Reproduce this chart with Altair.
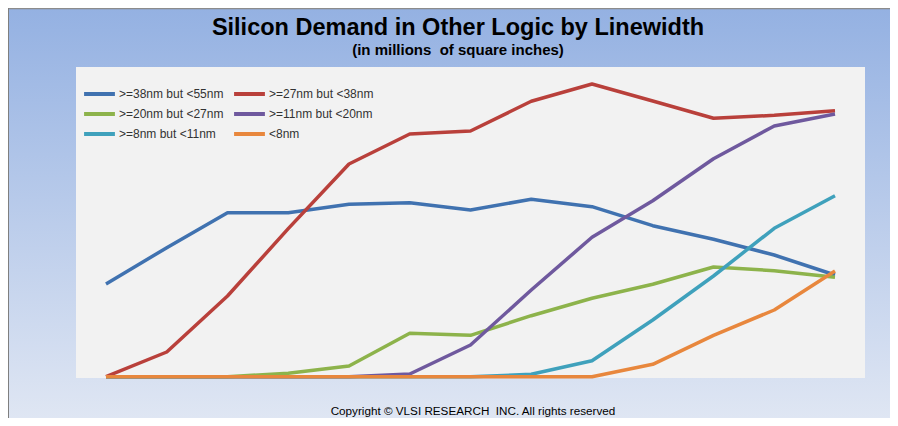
import altair as alt
import pandas as pd

# ---- data (relative units, 0 = baseline) ----
periods = list(range(13))
series_names = [">=38nm but <55nm", ">=27nm but <38nm", ">=20nm but <27nm",
                ">=11nm but <20nm", ">=8nm but <11nm", "<8nm"]
s_38_55 = [92.7, 129, 164, 164, 172.4, 174, 166.7, 177.4, 170, 151, 137.4, 121.7, 101.7]
s_27_38 = [0, 24.7, 80.7, 148, 212.7, 242.7, 245.7, 275.4, 292.7, 275.7, 258.4, 261.4, 266]
s_20_27 = [0, 0, 0, 3.4, 10.7, 43.4, 41.4, 61, 78.4, 92.4, 109.7, 106, 99.4]
s_11_20 = [0, 0, 0, 0, 0, 2.7, 31.7, 86.7, 139.4, 176, 218, 250.7, 262.7]
s_8_11 = [0, 0, 0, 0, 0, 0, 0, 2.4, 16, 56.7, 100.7, 148.4, 181]
s_lt8 = [0, 0, 0, 0, 0, 0, 0, 0, 0, 12.4, 41.4, 66.7, 105.7]
series_colors = ["#4072B0", "#B9403B", "#8DB34B", "#6F599E", "#3FA1BC", "#E8873D"]

title_text = "Silicon Demand in Other Logic by Linewidth"
subtitle_text = "(in millions\u00a0 of square inches)"
copyright_text = "Copyright \u00a9 VLSI RESEARCH\u00a0 INC. All rights reserved"

all_series = [s_38_55, s_27_38, s_20_27, s_11_20, s_8_11, s_lt8]
rows = []
for order, (name, vals) in enumerate(zip(series_names, all_series)):
    for p, v in zip(periods, vals):
        rows.append({"period": p, "value": v, "series": name, "ord": order})
df = pd.DataFrame(rows)

W, H = 882, 410
FONT = "Liberation Sans"
one = alt.Data(values=[{"a": 1}])

background = alt.Chart(one).mark_rect(
    color=alt.Gradient(
        gradient="linear", x1=0, y1=0, x2=0, y2=1,
        stops=[alt.GradientStop(offset=0, color="#94B1E2"),
               alt.GradientStop(offset=1, color="#DFE6F3")],
    )
).encode(x=alt.value(0), x2=alt.value(W), y=alt.value(0), y2=alt.value(H))

top_border = alt.Chart(one).mark_rule(color="#8C8C8C", strokeWidth=1.5).encode(
    x=alt.value(0), x2=alt.value(W), y=alt.value(0.5))
left_border = alt.Chart(one).mark_rule(color="#7F7F7F", strokeWidth=1).encode(
    x=alt.value(0.5), y=alt.value(0), y2=alt.value(H))

plot_bg = alt.Chart(one).mark_rect(color="#F2F2F2").encode(
    x=alt.value(68), x2=alt.value(857), y=alt.value(59), y2=alt.value(370))

lines = alt.Chart(df).mark_line(strokeWidth=3.5, strokeJoin="round").encode(
    x=alt.X("period:Q", axis=None,
            scale=alt.Scale(domain=[0, 12], range=[98, 827], nice=False, zero=False)),
    y=alt.Y("value:Q", axis=None,
            scale=alt.Scale(domain=[0, 368.7], range=[368.7, 0], nice=False)),
    color=alt.Color(
        "series:N", title=None,
        scale=alt.Scale(domain=series_names, range=series_colors),
        legend=alt.Legend(
            orient="none", legendX=74, legendY=79, columns=2, direction="horizontal",
            symbolType="stroke", symbolSize=950, symbolStrokeWidth=4,
            clipHeight=14,
            labelFont=FONT, labelFontSize=12, labelColor="#333333",
            labelOffset=2, rowPadding=6, columnPadding=8, padding=0,
            labelLimit=200,
        ),
    ),
    order=alt.Order("ord:Q"),
)

title = alt.Chart(alt.Data(values=[{"t": title_text}])).mark_text(
    font=FONT, fontSize=23.5, fontWeight="bold", color="#000000", align="center"
).encode(text="t:N", x=alt.value(450), y=alt.value(27))

subtitle = alt.Chart(alt.Data(values=[{"t": subtitle_text}])).mark_text(
    font=FONT, fontSize=15, fontWeight="bold", color="#000000", align="center"
).encode(text="t:N", x=alt.value(450), y=alt.value(46.5))

copyright_ = alt.Chart(alt.Data(values=[{"t": copyright_text}])).mark_text(
    font=FONT, fontSize=11.7, color="#000000", align="center"
).encode(text="t:N", x=alt.value(465), y=alt.value(406.5))

chart = alt.layer(
    background, top_border, left_border, plot_bg, lines, title, subtitle, copyright_
).properties(
    width=W, height=H, padding=0, autosize=alt.AutoSizeParams(type="none")
).configure_view(strokeWidth=0).configure_text(baseline="alphabetic")

chart.save("out.html", embed_options={"renderer": "svg", "actions": False})
